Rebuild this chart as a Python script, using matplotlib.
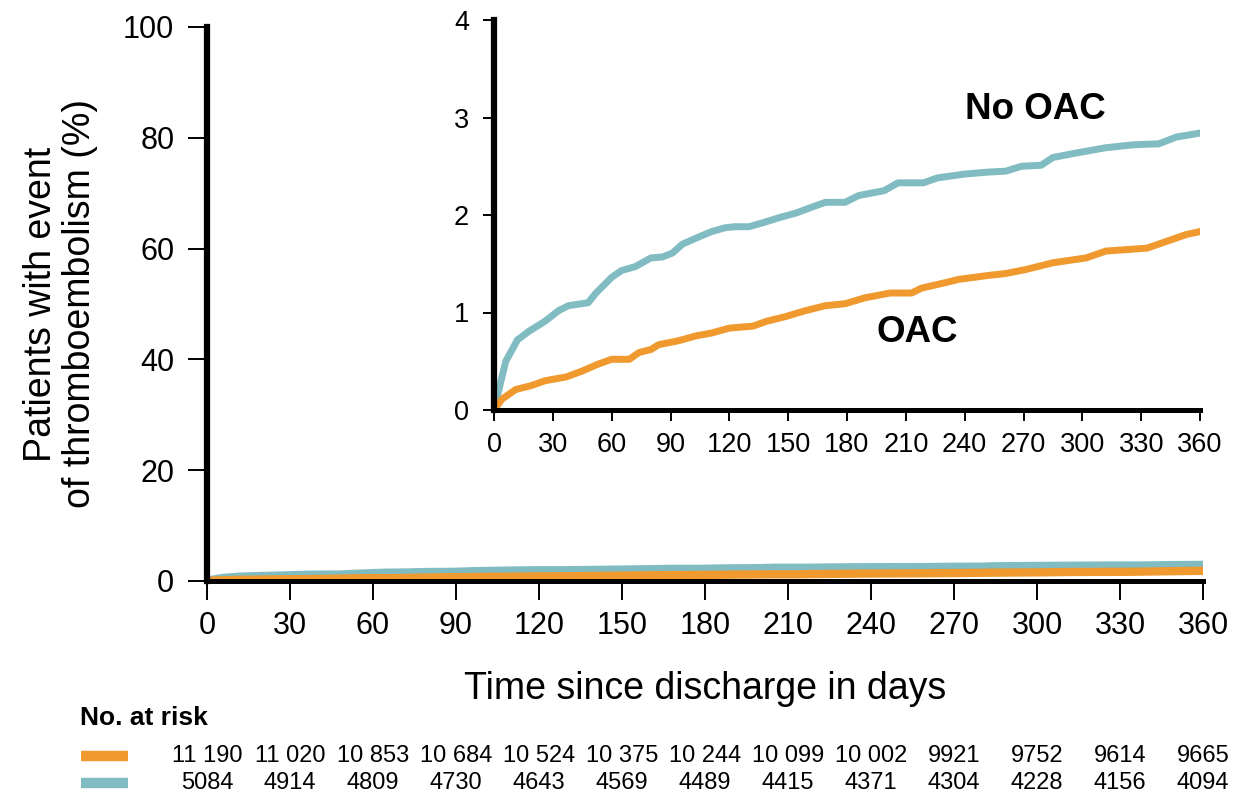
import matplotlib
matplotlib.use("Agg")
import matplotlib.pyplot as plt
import matplotlib.transforms as mtransforms

plt.rcParams['font.family'] = ['Liberation Sans', 'DejaVu Sans']

# ---- data (cumulative incidence, %) ----
no_oac_days = [0, 6, 12, 18, 26, 33, 38, 48, 52, 60, 65, 72, 80, 86, 91, 96, 105, 111,
               118, 123, 130, 137, 145, 154, 162, 169, 179, 186, 199, 206, 219, 226,
               240, 252, 261, 269, 279, 285, 298, 312, 326, 339, 348, 360]
no_oac_vals = [0, 0.50, 0.72, 0.81, 0.91, 1.02, 1.07, 1.10, 1.20, 1.36, 1.43, 1.47, 1.56,
               1.57, 1.61, 1.70, 1.78, 1.83, 1.87, 1.88, 1.88, 1.92, 1.97, 2.02, 2.08,
               2.13, 2.13, 2.20, 2.25, 2.33, 2.33, 2.38, 2.42, 2.44, 2.45, 2.50, 2.51,
               2.59, 2.64, 2.69, 2.72, 2.73, 2.80, 2.84]

oac_days = [0, 4, 11, 19, 26, 37, 45, 53, 60, 69, 74, 80, 84, 94, 103, 111, 120, 132,
            139, 149, 159, 169, 179, 189, 202, 213, 218, 231, 237, 252, 261, 271, 285,
            302, 312, 333, 343, 353, 360]
oac_vals = [0, 0.11, 0.21, 0.25, 0.30, 0.34, 0.40, 0.47, 0.52, 0.52, 0.59, 0.62, 0.67,
            0.71, 0.76, 0.79, 0.84, 0.86, 0.91, 0.96, 1.02, 1.07, 1.09, 1.15, 1.20,
            1.20, 1.25, 1.31, 1.34, 1.38, 1.40, 1.44, 1.51, 1.56, 1.63, 1.66, 1.73,
            1.80, 1.83]

risk_days = [0, 30, 60, 90, 120, 150, 180, 210, 240, 270, 300, 330, 360]
risk_oac = ["11 190", "11 020", "10 853", "10 684", "10 524", "10 375", "10 244",
            "10 099", "10 002", "9921", "9752", "9614", "9665"]
risk_no_oac = ["5084", "4914", "4809", "4730", "4643", "4569", "4489", "4415",
               "4371", "4304", "4228", "4156", "4094"]

x_ticks = list(range(0, 361, 30))
main_y_ticks = [0, 20, 40, 60, 80, 100]
inset_y_ticks = [0, 1, 2, 3, 4]

ORANGE = '#F0992E'
TEAL = '#80BCC2'

W, H = 1241, 795
fig = plt.figure(figsize=(W / 100, H / 100), dpi=100)

def px_axes(l, r, b, t):
    return [l / W, 1 - b / H, (r - l) / W, (b - t) / H]

# ---- main axes ----
ax = fig.add_axes(px_axes(207, 1203, 581, 27))
ax.plot(no_oac_days, no_oac_vals, color=TEAL, lw=6.5, solid_capstyle='butt', zorder=3)
ax.plot(oac_days, oac_vals, color=ORANGE, lw=6, solid_capstyle='butt', zorder=4)
ax.set_xlim(0, 360)
ax.set_ylim(0, 100)
ax.set_xticks(x_ticks)
ax.set_yticks(main_y_ticks)
for s in ['top', 'right']:
    ax.spines[s].set_visible(False)
ax.spines['left'].set_linewidth(4.5)
ax.spines['bottom'].set_linewidth(3.6)
for s in ['left', 'bottom']:
    ax.spines[s].set_zorder(5)
ax.tick_params(axis='both', direction='out', length=13.5, width=1.4, labelsize=22)
ax.tick_params(axis='x', pad=8)
ax.tick_params(axis='y', pad=10)
ax.set_xlabel('Time since discharge in days', fontsize=27, labelpad=22)
ax.set_ylabel('Patients with event\nof thromboembolism (%)', fontsize=27, labelpad=18,
              linespacing=1.1)

# ---- inset ----
axi = fig.add_axes(px_axes(494, 1200, 410, 20))
axi.plot(no_oac_days, no_oac_vals, color=TEAL, lw=5, zorder=3)
axi.plot(oac_days, oac_vals, color=ORANGE, lw=5, zorder=3)
axi.set_xlim(0, 360)
axi.set_ylim(0, 4)
axi.set_xticks(x_ticks)
axi.set_yticks(inset_y_ticks)
for s in ['top', 'right']:
    axi.spines[s].set_visible(False)
axi.spines['left'].set_linewidth(4.5)
axi.spines['bottom'].set_linewidth(3.6)
for s in ['left', 'bottom']:
    axi.spines[s].set_zorder(5)
axi.tick_params(axis='both', direction='out', length=8, width=1.4, labelsize=19.5)
axi.tick_params(axis='x', pad=8)
axi.tick_params(axis='y', pad=10)
axi.text(276, 3.08, 'No OAC', fontsize=26.5, fontweight='bold', ha='center', va='center')
axi.text(216, 0.80, 'OAC', fontsize=26.5, fontweight='bold', ha='center', va='center')

# ---- number at risk table ----
trans = mtransforms.blended_transform_factory(ax.transData, fig.transFigure)
fig.text(80 / W, 1 - 718 / H, 'No. at risk', fontsize=19, fontweight='bold',
         ha='left', va='center')
row_y = [1 - 756 / H, 1 - 783 / H]
for vals, yy in zip([risk_oac, risk_no_oac], row_y):
    for d, v in zip(risk_days, vals):
        fig.text(d, yy, v, transform=trans, fontsize=17, ha='center', va='center')
for col, yy in zip([ORANGE, TEAL], row_y):
    fig.add_artist(plt.Line2D([81 / W, 128 / W], [yy, yy], color=col, lw=7.5,
                              transform=fig.transFigure, solid_capstyle='butt'))

fig.savefig('out.png', dpi=100)
